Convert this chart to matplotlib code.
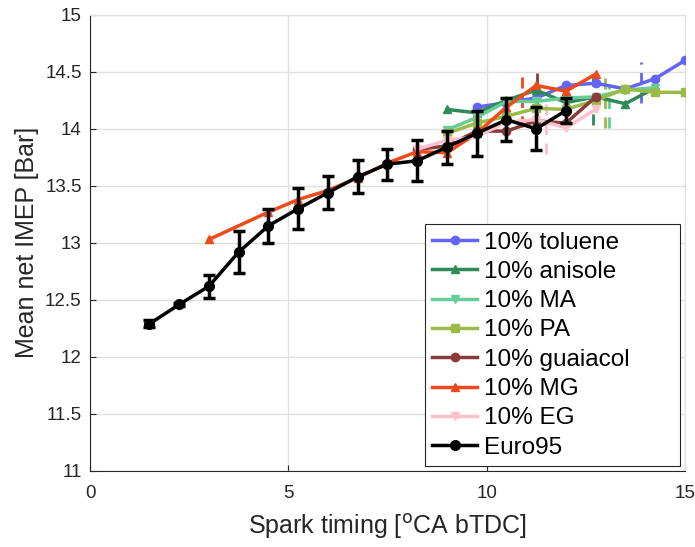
import numpy as np
import matplotlib.pyplot as plt
from matplotlib.lines import Line2D

plt.rcParams['font.family'] = ['Liberation Sans', 'DejaVu Sans']

# spark timing [deg CA bTDC] and mean net IMEP [bar]
tol_x = [9.75, 10.5, 11.25, 12.0, 12.75, 13.5, 14.25, 15.0]
tol_y = [14.19, 14.23, 14.27, 14.38, 14.40, 14.35, 14.44, 14.60]

ani_x = [9.0, 9.75, 10.5, 11.25, 12.0, 12.75, 13.5, 14.25]
ani_y = [14.17, 14.14, 14.25, 14.34, 14.23, 14.28, 14.22, 14.36]

ma_x = [9.0, 9.75, 10.5, 11.25, 12.0, 12.75, 13.5, 14.25]
ma_y = [13.99, 14.10, 14.24, 14.24, 14.27, 14.28, 14.34, 14.36]

pa_x = [9.0, 9.75, 10.5, 11.25, 12.0, 12.75, 13.5, 14.25, 15.0]
pa_y = [13.96, 14.05, 14.11, 14.18, 14.17, 14.25, 14.35, 14.32, 14.32]

gua_x = [8.25, 9.0, 9.75, 10.5, 11.25, 12.0, 12.75]
gua_y = [13.82, 13.85, 13.98, 13.98, 14.07, 14.05, 14.28]

mg_x = [3.0, 4.5, 5.25, 6.0, 6.75, 7.5, 8.25, 9.0, 9.75, 10.5, 11.25, 12.0, 12.75]
mg_y = [13.03, 13.27, 13.38, 13.46, 13.57, 13.70, 13.80, 13.79, 13.96, 14.19, 14.38, 14.33, 14.48]

eg_x = [8.25, 9.0, 9.75, 10.5, 11.25, 12.0, 12.75]
eg_y = [13.82, 13.90, 13.93, 14.06, 14.08, 14.01, 14.17]

e95_x = [1.5, 2.25, 3.0, 3.75, 4.5, 5.25, 6.0, 6.75, 7.5, 8.25, 9.0, 9.75, 10.5, 11.25, 12.0]
e95_y = [12.29, 12.46, 12.62, 12.92, 13.15, 13.30, 13.44, 13.58, 13.69, 13.72, 13.84, 13.96, 14.08, 14.00, 14.16]
e95_err = [0.03, 0.01, 0.10, 0.18, 0.15, 0.18, 0.145, 0.145, 0.135, 0.18, 0.145, 0.20, 0.19, 0.19, 0.11]

# knock limit markers (dashed): x position and y span
knock = {
    'tol': (13.88, 14.23, 14.59),
    'ani': (12.69, 14.03, 14.47),
    'ma': (13.08, 14.01, 14.39),
    'pa': (12.98, 14.01, 14.52),
    'gua': (11.28, 14.05, 14.55),
    'mg': (10.88, 14.02, 14.52),
    'eg': (11.49, 13.78, 14.25),
}

series = [
    ('tol', tol_x, tol_y, '10% toluene', '#6464f5', 'o'),
    ('ani', ani_x, ani_y, '10% anisole', '#2e8b57', '^'),
    ('ma', ma_x, ma_y, '10% MA', '#66cc99', 'v'),
    ('pa', pa_x, pa_y, '10% PA', '#9abb48', 's'),
    ('gua', gua_x, gua_y, '10% guaiacol', '#8b3a3a', 'o'),
    ('mg', mg_x, mg_y, '10% MG', '#ee4a1a', '^'),
    ('eg', eg_x, eg_y, '10% EG', '#ffc0cb', 'v'),
]

fig = plt.figure(figsize=(6.95, 5.47), dpi=100)
ax = fig.add_axes([0.1295, 0.139, 0.856, 0.834])

handles = []
for key, x, y, label, color, marker in series:
    ln, = ax.plot(x, y, color=color, marker=marker, markersize=6, linewidth=2.5, label=label, zorder=3)
    handles.append(ln)
    kx, y0, y1 = knock[key]
    ax.plot([kx, kx], [y0, y1], color=color, linestyle=(0, (4, 3)), linewidth=2, zorder=2)

ax.errorbar(e95_x, e95_y, yerr=e95_err, color='black', marker='o', markersize=7,
            linewidth=2.5, elinewidth=2.5, capsize=4, capthick=2.5, zorder=4)
handles.append(Line2D([], [], color='black', marker='o', markersize=7, linewidth=2.5, label='Euro95'))

ax.set_xlim(0, 15)
ax.set_ylim(11, 15)
ax.set_xticks([0, 5, 10, 15])
ax.set_yticks(np.arange(11, 15.01, 0.5))
ax.set_yticklabels(['11', '11.5', '12', '12.5', '13', '13.5', '14', '14.5', '15'])
ax.grid(True, color='#e0e0e0', linewidth=1)
ax.set_axisbelow(True)
ax.tick_params(direction='in', length=4, labelsize=13.5, colors='#262626', width=0.8)
ax.tick_params(axis='x', pad=10)
ax.tick_params(axis='y', pad=6)
for s in ['top', 'right']:
    ax.spines[s].set_color('#e0e0e0')
for s in ['left', 'bottom']:
    ax.spines[s].set_color('#262626')

ax.set_xlabel('Spark timing [$^{\\mathrm{o}}$CA bTDC]', fontsize=18, color='#262626', labelpad=7)
ax.set_ylabel('Mean net IMEP [Bar]', fontsize=18, color='#262626', labelpad=4)

leg = ax.legend(handles=handles, loc='lower left', fontsize=17.5, frameon=True, fancybox=False,
                edgecolor='#262626', framealpha=1, handlelength=1.85, borderpad=0.3,
                labelspacing=0.3, handletextpad=0.3, borderaxespad=0, mode='expand',
                bbox_to_anchor=(0.563, 0.011, 0.429, 0.535))
leg.get_frame().set_linewidth(0.8)

fig.savefig('out.png', dpi=100)
